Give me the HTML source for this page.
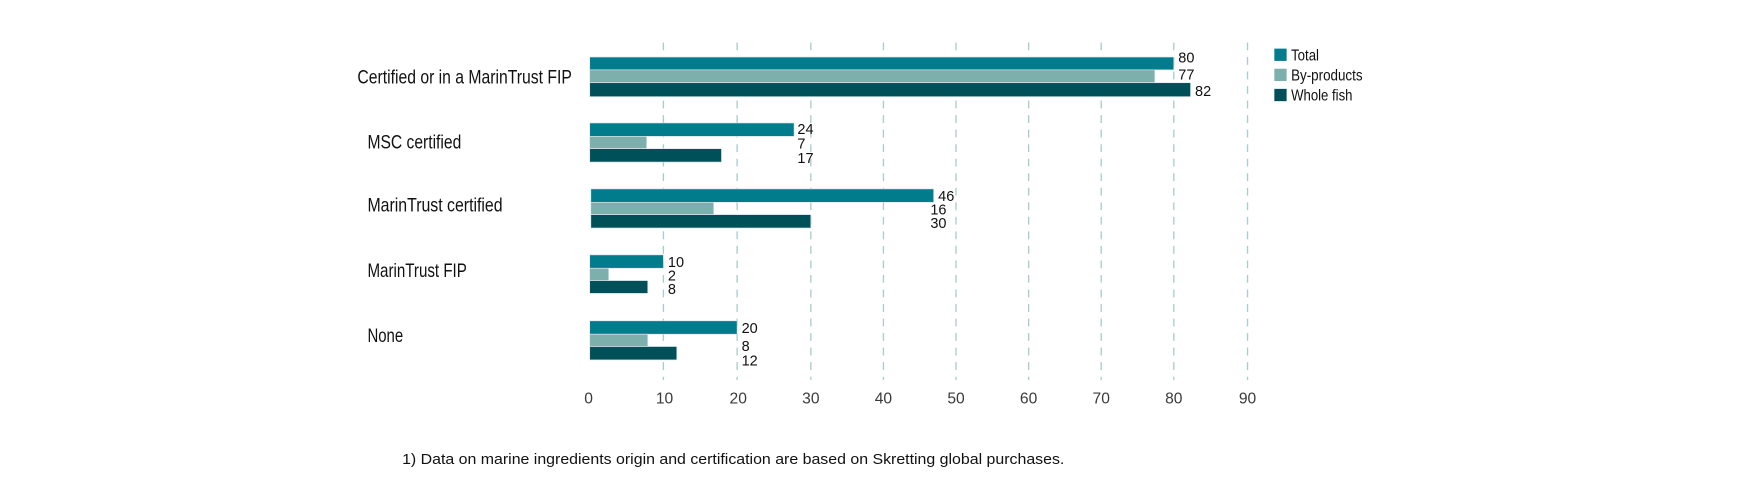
<!DOCTYPE html>
<html>
<head>
<meta charset="utf-8">
<style>
html,body{margin:0;padding:0;background:#fff;}
svg{display:block;}
text{font-family:"Liberation Sans Narrow","Liberation Sans",sans-serif;}
.cat{font-size:17px;fill:#111;}
.val{font-family:"Liberation Sans",sans-serif;font-size:13px;fill:#111;}
.ax{font-size:14px;fill:#3a3a3a;text-anchor:middle;}
.leg{font-size:14px;fill:#111;}
.grid{stroke:#aacccc;stroke-width:1.2;stroke-dasharray:7 6;}
.t{fill:#007c8d;stroke:#d6e8e8;stroke-width:0.6;}
.b{fill:#7db0ad;stroke:#d6e8e8;stroke-width:0.6;}
.w{fill:#00505a;stroke:#d6e8e8;stroke-width:0.6;}
</style>
</head>
<body>
<svg width="1749" height="503" viewBox="0 0 1566 450" preserveAspectRatio="none" xmlns="http://www.w3.org/2000/svg">
<!-- grid -->
<g class="grid">
<line x1="594" y1="38" x2="594" y2="340"/>
<line x1="660" y1="38" x2="660" y2="340"/>
<line x1="726" y1="38" x2="726" y2="340"/>
<line x1="791" y1="38" x2="791" y2="340"/>
<line x1="856" y1="38" x2="856" y2="340"/>
<line x1="921" y1="38" x2="921" y2="340"/>
<line x1="986" y1="38" x2="986" y2="340"/>
<line x1="1051" y1="38" x2="1051" y2="340"/>
<line x1="1117" y1="38" x2="1117" y2="340"/>
</g>

<!-- group 1 -->
<rect class="t" x="528" y="51" width="523" height="11.5"/>
<rect class="b" x="528" y="62.5" width="506" height="11.5"/>
<rect class="w" x="528" y="74" width="538" height="12.5"/>
<text class="val" x="1055" y="56">80</text>
<text class="val" x="1055" y="71">77</text>
<text class="val" x="1070" y="86">82</text>

<!-- group 2 -->
<rect class="t" x="528" y="110" width="183" height="12"/>
<rect class="b" x="528" y="122" width="51" height="11"/>
<rect class="w" x="528" y="133" width="118" height="12"/>
<text class="val" x="714" y="120">24</text>
<text class="val" x="714" y="133">7</text>
<text class="val" x="714" y="146">17</text>

<!-- group 3 -->
<rect class="t" x="529" y="169" width="307" height="12"/>
<rect class="b" x="529" y="181" width="110" height="11"/>
<rect class="w" x="529" y="192" width="197" height="12"/>
<text class="val" x="840" y="180">46</text>
<text class="val" x="833" y="192">16</text>
<text class="val" x="833" y="204">30</text>

<!-- group 4 -->
<rect class="t" x="528" y="228" width="66" height="12"/>
<rect class="b" x="528" y="240" width="17" height="11"/>
<rect class="w" x="528" y="251" width="52" height="11.5"/>
<text class="val" x="598" y="239">10</text>
<text class="val" x="598" y="251">2</text>
<text class="val" x="598" y="263">8</text>

<!-- group 5 -->
<rect class="t" x="528" y="287" width="132" height="12"/>
<rect class="b" x="528" y="299" width="52" height="11"/>
<rect class="w" x="528" y="310" width="78" height="12"/>
<text class="val" x="664" y="298">20</text>
<text class="val" x="664" y="314">8</text>
<text class="val" x="664" y="327">12</text>

<!-- category labels -->
<text class="cat" x="320" y="74.5" textLength="192" lengthAdjust="spacingAndGlyphs">Certified or in a MarinTrust FIP</text>
<text class="cat" x="329" y="133" textLength="84" lengthAdjust="spacingAndGlyphs">MSC certified</text>
<text class="cat" x="329" y="189" textLength="121" lengthAdjust="spacingAndGlyphs">MarinTrust certified</text>
<text class="cat" x="329" y="248" textLength="89" lengthAdjust="spacingAndGlyphs">MarinTrust FIP</text>
<text class="cat" x="329" y="306" textLength="32" lengthAdjust="spacingAndGlyphs">None</text>

<!-- axis labels -->
<text class="ax" x="527" y="361">0</text>
<text class="ax" x="595" y="361">10</text>
<text class="ax" x="661" y="361">20</text>
<text class="ax" x="726" y="361">30</text>
<text class="ax" x="791" y="361">40</text>
<text class="ax" x="856" y="361">50</text>
<text class="ax" x="921" y="361">60</text>
<text class="ax" x="986" y="361">70</text>
<text class="ax" x="1051" y="361">80</text>
<text class="ax" x="1117" y="361">90</text>

<!-- legend -->
<rect x="1141" y="43.5" width="11" height="11" fill="#007c8d"/>
<rect x="1141" y="61.5" width="11" height="11" fill="#7db0ad"/>
<rect x="1141" y="79.5" width="11" height="11" fill="#00505a"/>
<text class="leg" x="1156" y="54" textLength="25" lengthAdjust="spacingAndGlyphs">Total</text>
<text class="leg" x="1156" y="72" textLength="64" lengthAdjust="spacingAndGlyphs">By-products</text>
<text class="leg" x="1156" y="90" textLength="55" lengthAdjust="spacingAndGlyphs">Whole fish</text>

<!-- footnote -->
<text x="360" y="415" font-family="Liberation Sans, sans-serif" font-size="13.5" fill="#111" textLength="593" lengthAdjust="spacingAndGlyphs">1) Data on marine ingredients origin and certification are based on Skretting global purchases.</text>
</svg>
</body>
</html>
